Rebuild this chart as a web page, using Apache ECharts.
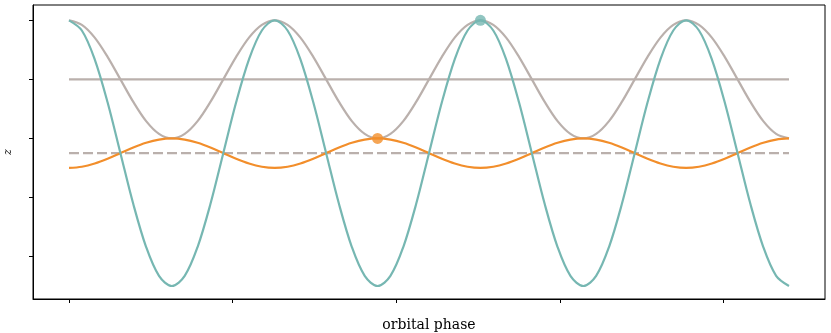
<!DOCTYPE html>
<html>
<head>
<meta charset="utf-8">
<script src="https://cdn.jsdelivr.net/npm/echarts@6/dist/echarts.min.js"></script>
<style>
  html, body { margin: 0; padding: 0; background: #fff; }
  #chart { width: 831px; height: 333px; }
</style>
</head>
<body>
<div id="chart"></div>
<script>
// orbital phase samples (in orbital periods), every 1/16 period
const phase = [
  0, 0.0625, 0.125, 0.1875, 0.25, 0.3125, 0.375, 0.4375,
  0.5, 0.5625, 0.625, 0.6875, 0.75, 0.8125, 0.875, 0.9375,
  1, 1.0625, 1.125, 1.1875, 1.25, 1.3125, 1.375, 1.4375,
  1.5, 1.5625, 1.625, 1.6875, 1.75, 1.8125, 1.875, 1.9375,
  2, 2.0625, 2.125, 2.1875, 2.25, 2.3125, 2.375, 2.4375,
  2.5, 2.5625, 2.625, 2.6875, 2.75, 2.8125, 2.875, 2.9375,
  3, 3.0625, 3.125, 3.1875, 3.25, 3.3125, 3.375, 3.4375,
  3.5
];

// teal curve
const zTeal = [
  1, 0.914, 0.67, 0.306, -0.125, -0.556, -0.92, -1.164,
  -1.25, -1.164, -0.92, -0.556, -0.125, 0.306, 0.67, 0.914,
  1, 0.914, 0.67, 0.306, -0.125, -0.556, -0.92, -1.164,
  -1.25, -1.164, -0.92, -0.556, -0.125, 0.306, 0.67, 0.914,
  1, 0.914, 0.67, 0.306, -0.125, -0.556, -0.92, -1.164,
  -1.25, -1.164, -0.92, -0.556, -0.125, 0.306, 0.67, 0.914,
  1, 0.914, 0.67, 0.306, -0.125, -0.556, -0.92, -1.164,
  -1.25
];

// gray curve
const zGray = [
  1, 0.962, 0.854, 0.691, 0.5, 0.309, 0.146, 0.038,
  0, 0.038, 0.146, 0.309, 0.5, 0.691, 0.854, 0.962,
  1, 0.962, 0.854, 0.691, 0.5, 0.309, 0.146, 0.038,
  0, 0.038, 0.146, 0.309, 0.5, 0.691, 0.854, 0.962,
  1, 0.962, 0.854, 0.691, 0.5, 0.309, 0.146, 0.038,
  0, 0.038, 0.146, 0.309, 0.5, 0.691, 0.854, 0.962,
  1, 0.962, 0.854, 0.691, 0.5, 0.309, 0.146, 0.038,
  0
];

// orange curve
const zOrange = [
  -0.25, -0.24, -0.213, -0.173, -0.125, -0.077, -0.037, -0.01,
  0, -0.01, -0.037, -0.077, -0.125, -0.173, -0.213, -0.24,
  -0.25, -0.24, -0.213, -0.173, -0.125, -0.077, -0.037, -0.01,
  0, -0.01, -0.037, -0.077, -0.125, -0.173, -0.213, -0.24,
  -0.25, -0.24, -0.213, -0.173, -0.125, -0.077, -0.037, -0.01,
  0, -0.01, -0.037, -0.077, -0.125, -0.173, -0.213, -0.24,
  -0.25, -0.24, -0.213, -0.173, -0.125, -0.077, -0.037, -0.01,
  0
];

const grayMean = 0.5;
const dashedMean = -0.125;
const orangeMarker = [1.5, 0];
const tealMarker = [2, 1];

const xTicks = [0, 0.796, 1.59, 2.386, 3.18];
const yTicks = [-1, -0.5, 0, 0.5, 1];

const TEAL = '#76b7b2';
const ORANGE = '#f28e2b';
const GRAY = '#bab0ac';
const LW = 2.2;

const pairs = (xs, ys) => xs.map((x, i) => [x, ys[i]]);
const xStart = phase[0];
const xEnd = phase[phase.length - 1];

// smooth 1/3 gives catmull-rom like tangents with evenly spaced samples
const curve = (name, ys, color) => ({
  name,
  type: 'line',
  data: pairs(phase, ys),
  smooth: 0.33,
  symbol: 'none',
  lineStyle: { color, width: LW }
});

const chart = echarts.init(document.getElementById('chart'), null, { renderer: 'canvas' });

chart.setOption({
  animation: false,
  backgroundColor: '#fff',
  grid: {
    left: 33, right: 6, top: 5, bottom: 34,
    containLabel: false,
    outerBoundsMode: 'none',
    show: true, borderColor: '#000', borderWidth: 1
  },
  xAxis: {
    type: 'value',
    min: -0.175,
    max: 3.675,
    name: 'orbital phase',
    nameLocation: 'middle',
    nameGap: 19,
    nameTextStyle: { fontFamily: 'DejaVu Serif', fontSize: 14, color: '#000' },
    axisLine: { show: true, onZero: false, lineStyle: { color: '#000', width: 1 } },
    axisTick: { show: true, length: 4, lineStyle: { color: '#000', width: 1 }, customValues: xTicks },
    axisLabel: { show: false },
    splitLine: { show: false }
  },
  yAxis: {
    type: 'value',
    min: -1.36,
    max: 1.13,
    name: 'z',
    nameLocation: 'middle',
    nameGap: 19,
    nameRotate: 90,
    nameTextStyle: { fontFamily: 'DejaVu Serif', fontStyle: 'italic', fontSize: 11, color: '#000' },
    axisLine: { show: true, onZero: false, lineStyle: { color: '#000', width: 1 } },
    axisTick: { show: true, length: 4, lineStyle: { color: '#000', width: 1 }, customValues: yTicks },
    axisLabel: { show: false },
    splitLine: { show: false }
  },
  series: [
    {
      name: 'mean',
      type: 'line',
      data: [[xStart, grayMean], [xEnd, grayMean]],
      symbol: 'none',
      lineStyle: { color: GRAY, width: LW }
    },
    {
      name: 'dashed mean',
      type: 'line',
      data: [[xStart, dashedMean], [xEnd, dashedMean]],
      symbol: 'none',
      lineStyle: { color: GRAY, width: LW, type: [10, 4] }
    },
    curve('gray', zGray, GRAY),
    curve('orange', zOrange, ORANGE),
    curve('teal', zTeal, TEAL),
    {
      name: 'markers',
      type: 'scatter',
      data: [
        { value: orangeMarker, itemStyle: { color: ORANGE } },
        { value: tealMarker, itemStyle: { color: TEAL } }
      ],
      symbolSize: 11,
      z: 5
    }
  ]
});
</script>
</body>
</html>
